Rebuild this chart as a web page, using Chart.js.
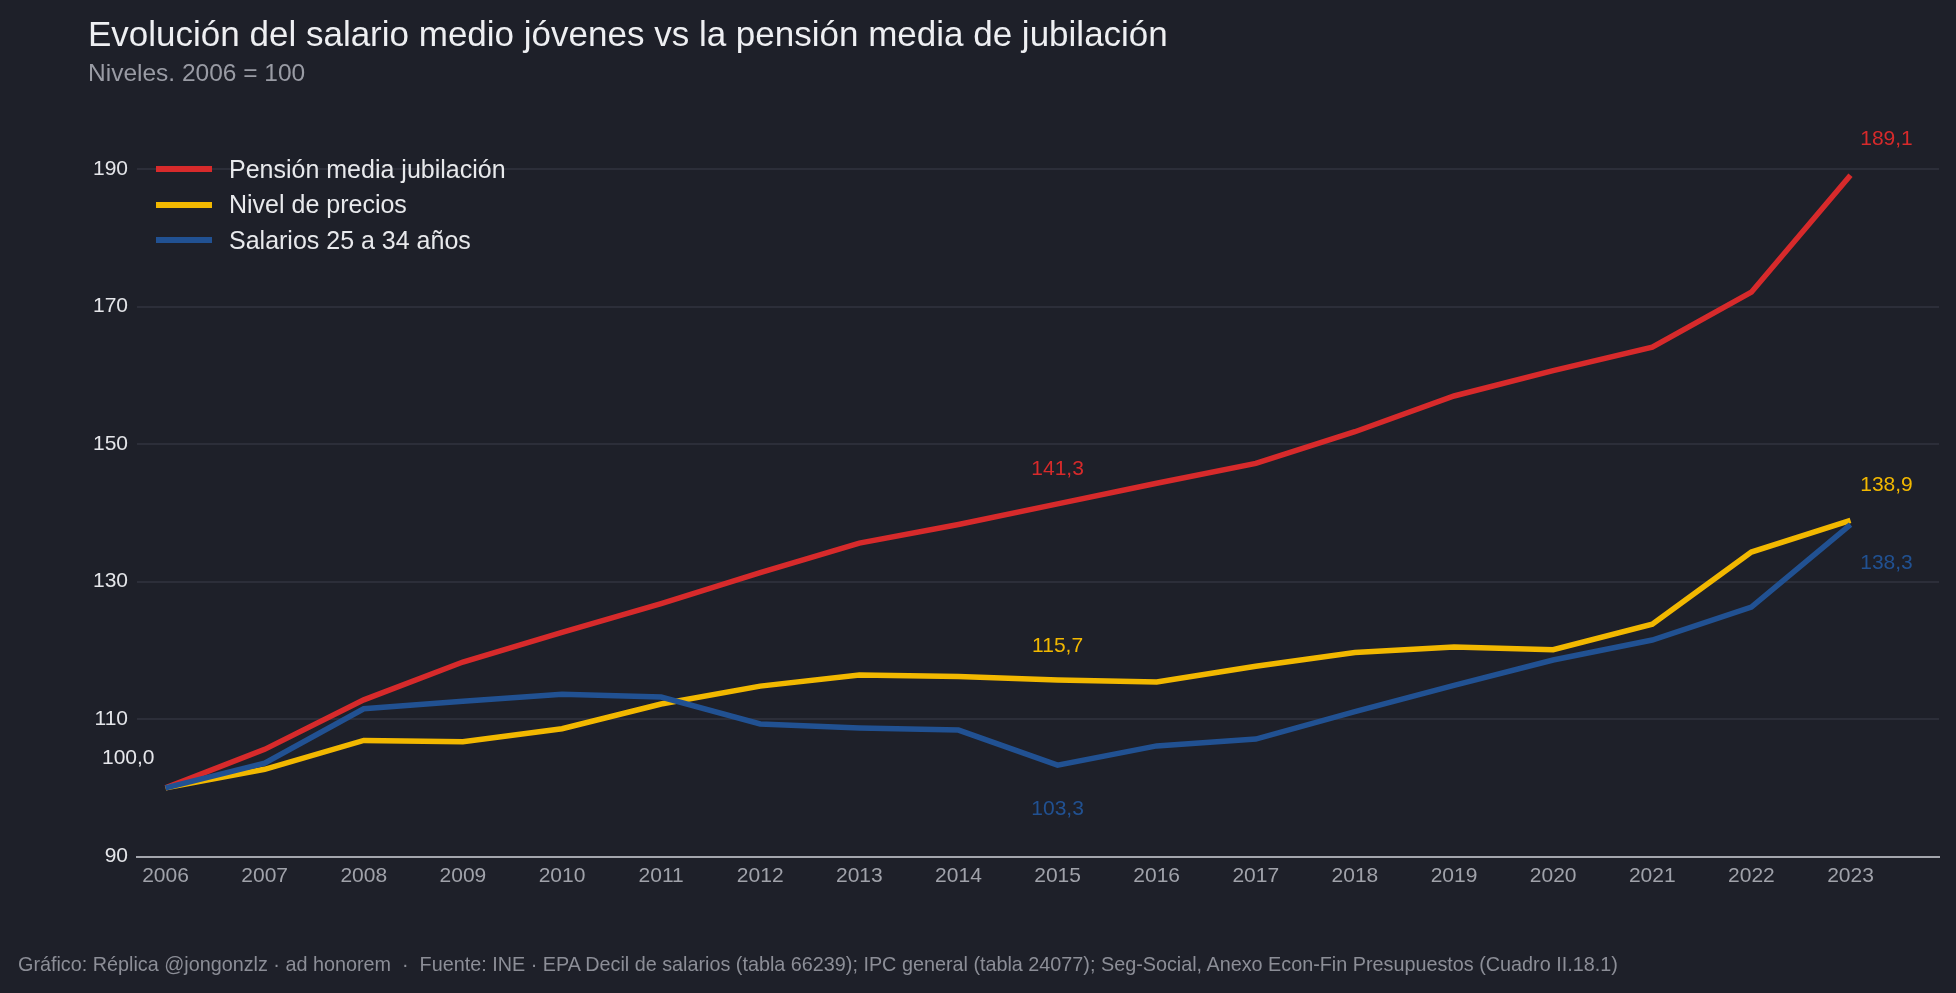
<!DOCTYPE html>
<html lang="es">
<head>
<meta charset="utf-8">
<title>Salario jóvenes vs pensión media</title>
<script src="https://cdn.jsdelivr.net/npm/chart.js@4.4.1/dist/chart.umd.min.js"></script>
<style>
  html, body { margin: 0; padding: 0; background: #1e2029; }
  body { width: 1956px; height: 993px; position: relative; overflow: hidden; font-family: 'Liberation Sans', Arial, sans-serif; }
  #chart { position: absolute; left: 0; top: 0; }
  .title { position: absolute; left: 88px; top: 16px; font-size: 35px; line-height: 1; color: #eeeff2; white-space: nowrap; }
  .subtitle { position: absolute; left: 88px; top: 61px; font-size: 24.5px; line-height: 1; color: #999ba4; white-space: nowrap; }
  .footer { position: absolute; left: 18px; top: 955px; font-size: 19.8px; line-height: 1; color: #8c8e97; white-space: pre; }
  .legend { position: absolute; left: 156px; top: 151.5px; }
  .legend-row { display: flex; align-items: center; height: 35.5px; }
  .legend-swatch { width: 56px; height: 6px; margin-right: 17px; }
  .legend-text { font-size: 25px; color: #e8e9ec; white-space: nowrap; }
</style>
</head>
<body>
<canvas id="chart" width="1956" height="993"></canvas>
<div class="title">Evolución del salario medio jóvenes vs la pensión media de jubilación</div>
<div class="subtitle">Niveles. 2006 = 100</div>
<div class="legend" id="legend"></div>
<div class="footer">Gráfico: Réplica @jongonzlz · ad honorem  ·  Fuente: INE · EPA Decil de salarios (tabla 66239); IPC general (tabla 24077); Seg-Social, Anexo Econ-Fin Presupuestos (Cuadro II.18.1)</div>
<script>
const years = [2006, 2007, 2008, 2009, 2010, 2011, 2012, 2013, 2014, 2015, 2016, 2017, 2018, 2019, 2020, 2021, 2022, 2023];
const yTicks = [90, 110, 130, 150, 170, 190];

const pensionMedia = [100.0, 105.6, 112.8, 118.3, 122.6, 126.8, 131.3, 135.6, 138.3, 141.3, 144.3, 147.2, 151.8, 157.0, 160.7, 164.1, 172.1, 189.1];
const nivelPrecios = [100.0, 102.7, 106.9, 106.7, 108.6, 112.2, 114.8, 116.4, 116.2, 115.7, 115.4, 117.7, 119.7, 120.5, 120.1, 123.8, 134.3, 138.9];
const salarios2534 = [100.0, 103.6, 111.5, 112.6, 113.6, 113.2, 109.3, 108.7, 108.4, 103.3, 106.1, 107.1, 111.1, 114.9, 118.6, 121.5, 126.3, 138.3];

const seriesNames = ['Pensión media jubilación', 'Nivel de precios', 'Salarios 25 a 34 años'];
const seriesColors = ['#d72a2b', '#f2b800', '#215192'];

// value labels: [dataset, year index, offsetX, offsetY, align, colour override]
const valueLabels = [
  [0, 0, -11, -30, 'right', '#e6e7eb'],
  [0, 9, 0, -35, 'center', null],
  [1, 9, 0, -34, 'center', null],
  [2, 9, 0, 44, 'center', null],
  [0, 17, 36, -36, 'center', null],
  [1, 17, 36, -35, 'center', null],
  [2, 17, 36, 39, 'center', null],
];

const fmt = (v) => v.toFixed(1).replace('.', ',');

function toPoints(values) {
  return years.map((year, i) => ({ x: year, y: values[i] }));
}

const valueLabelPlugin = {
  id: 'valueLabels',
  afterDatasetsDraw(chart) {
    const { ctx, scales } = chart;
    ctx.save();
    ctx.font = "21px 'Liberation Sans', Arial, sans-serif";
    ctx.textBaseline = 'middle';
    valueLabels.forEach(([ds, idx, dx, dy, align, colour]) => {
      const value = chart.data.datasets[ds].data[idx].y;
      const px = scales.x.getPixelForValue(years[idx]);
      const py = scales.y.getPixelForValue(value);
      ctx.fillStyle = colour || seriesColors[ds];
      ctx.textAlign = align;
      ctx.fillText(fmt(value), px + dx, py + dy);
    });
    ctx.restore();
  },
};

document.getElementById('legend').innerHTML = seriesNames.map((name, i) => `
  <div class="legend-row">
    <div class="legend-swatch" style="background:${seriesColors[i]}"></div>
    <div class="legend-text">${name}</div>
  </div>
`).join('');

const seriesValues = [pensionMedia, nivelPrecios, salarios2534];

new Chart(document.getElementById('chart').getContext('2d'), {
  type: 'line',
  data: {
    datasets: seriesValues.map((values, i) => ({
      label: seriesNames[i],
      data: toPoints(values),
      borderColor: seriesColors[i],
      backgroundColor: seriesColors[i],
      borderWidth: 5.5,
      pointRadius: 0,
      tension: 0,
      fill: false,
      order: 3 - i,
    })),
  },
  options: {
    responsive: false,
    animation: false,
    devicePixelRatio: 1,
    layout: { padding: { top: 121, right: 17, left: 0, bottom: 0 } },
    plugins: { legend: { display: false }, tooltip: { enabled: false } },
    scales: {
      x: {
        type: 'linear',
        min: 2005.712,
        max: 2023.893,
        afterBuildTicks: (axis) => { axis.ticks = years.map((v) => ({ value: v })); },
        afterFit: (axis) => { axis.height = 136.4; },
        grid: { display: false, drawTicks: false },
        border: { display: true, color: '#a4a6ad', width: 2 },
        ticks: {
          color: '#a0a2aa',
          padding: 7,
          autoSkip: false,
          maxRotation: 0,
          font: { family: "'Liberation Sans', Arial, sans-serif", size: 21 },
          callback: (v) => String(v),
        },
      },
      y: {
        min: 90,
        max: 197,
        afterBuildTicks: (axis) => { axis.ticks = yTicks.map((v) => ({ value: v })); },
        afterFit: (axis) => { axis.width = 137; },
        grid: { color: '#2c2e39', lineWidth: 2, drawTicks: false },
        border: { display: false },
        ticks: {
          color: '#e4e5e9',
          padding: 9,
          font: { family: "'Liberation Sans', Arial, sans-serif", size: 21 },
          callback: (v) => String(v),
        },
      },
    },
  },
  plugins: [valueLabelPlugin],
});
</script>
</body>
</html>
